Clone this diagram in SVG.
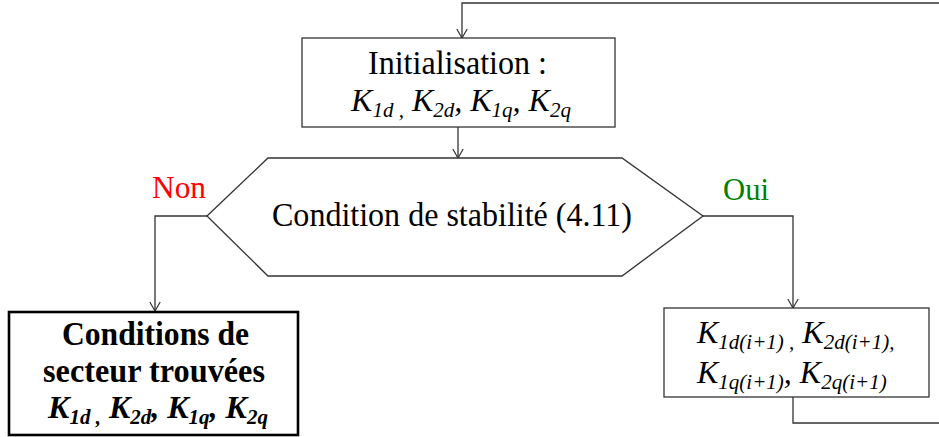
<svg xmlns="http://www.w3.org/2000/svg" width="939" height="437" viewBox="0 0 939 437">
<style>
.box{fill:#fff;stroke:#333;stroke-width:1.3}
.bold-box{fill:#fff;stroke:#000;stroke-width:2.6}
.conn{fill:none;stroke:#333;stroke-width:1.3}
.t{font-family:"Liberation Serif","Times New Roman",serif;font-size:32px;fill:#000}
.big{font-size:34px}
.it{font-style:italic}
.b{font-weight:bold}
.sub{font-size:21px}
.lbl{font-family:"Liberation Serif","Times New Roman",serif;font-size:32px}
</style>
<defs>
<marker id="arr" viewBox="0 0 12 12" refX="11" refY="6" markerWidth="12" markerHeight="12" markerUnits="userSpaceOnUse" orient="auto">
<path d="M2,0.8 L11,6 L2,11.2" fill="none" stroke="#333" stroke-width="1.2"/>
</marker>
</defs>
<rect width="939" height="437" fill="#fff"/>
<g id="connectors">
<path class="conn" d="M793,397 V423 H941 V3 H462 V38" marker-end="url(#arr)"/>
<path class="conn" d="M458,127 V158" marker-end="url(#arr)"/>
<path class="conn" d="M216,216 H155 V311" marker-end="url(#arr)"/>
<path class="conn" d="M703,216 H793 V308" marker-end="url(#arr)"/>
</g>
<g id="init">
<rect class="box" x="302" y="38" width="313" height="89"/>
<text class="t big" x="368" y="74" textLength="179" lengthAdjust="spacingAndGlyphs">Initialisation :</text>
<text class="t it" x="461" y="111" text-anchor="middle">K<tspan class="sub" dy="6">1d ,</tspan><tspan dy="-6"> K</tspan><tspan class="sub" dy="6">2d</tspan><tspan dy="-6">, K</tspan><tspan class="sub" dy="6">1q</tspan><tspan dy="-6">, K</tspan><tspan class="sub" dy="6">2q</tspan></text>
</g>
<g id="decision">
<polygon fill="#fff" stroke="#333" stroke-width="1.3" points="207,216 268,158 622,158 703,216 622,276 268,276"/>
<text class="t big" x="272" y="226" textLength="360" lengthAdjust="spacingAndGlyphs">Condition de stabilité (4.11)</text>
</g>
<g id="label-non">
<text class="lbl" x="152" y="198" fill="#ff0000" textLength="54" lengthAdjust="spacingAndGlyphs">Non</text>
</g>
<g id="label-oui">
<text class="lbl" x="723" y="200" fill="#008000" textLength="46" lengthAdjust="spacingAndGlyphs">Oui</text>
</g>
<g id="found">
<rect class="bold-box" x="9" y="312" width="289" height="123"/>
<text class="t b big" x="62" y="345" textLength="187" lengthAdjust="spacingAndGlyphs">Conditions de</text>
<text class="t b big" x="43" y="382" textLength="222" lengthAdjust="spacingAndGlyphs">secteur trouvées</text>
<text class="t b it" x="158" y="418" text-anchor="middle">K<tspan class="sub" dy="6">1d ,</tspan><tspan dy="-6"> K</tspan><tspan class="sub" dy="6">2d</tspan><tspan dy="-6">, K</tspan><tspan class="sub" dy="6">1q</tspan><tspan dy="-6">, K</tspan><tspan class="sub" dy="6">2q</tspan></text>
</g>
<g id="update">
<rect class="box" x="664" y="308" width="265" height="89"/>
<text class="t it" x="697" y="343">K<tspan class="sub" dy="6">1d(i+1) ,</tspan><tspan dy="-6"> K</tspan><tspan class="sub" dy="6">2d(i+1),</tspan></text>
<text class="t it" x="697" y="383">K<tspan class="sub" dy="6">1q(i+1)</tspan><tspan dy="-6">, K</tspan><tspan class="sub" dy="6">2q(i+1)</tspan></text>
</g>
</svg>
